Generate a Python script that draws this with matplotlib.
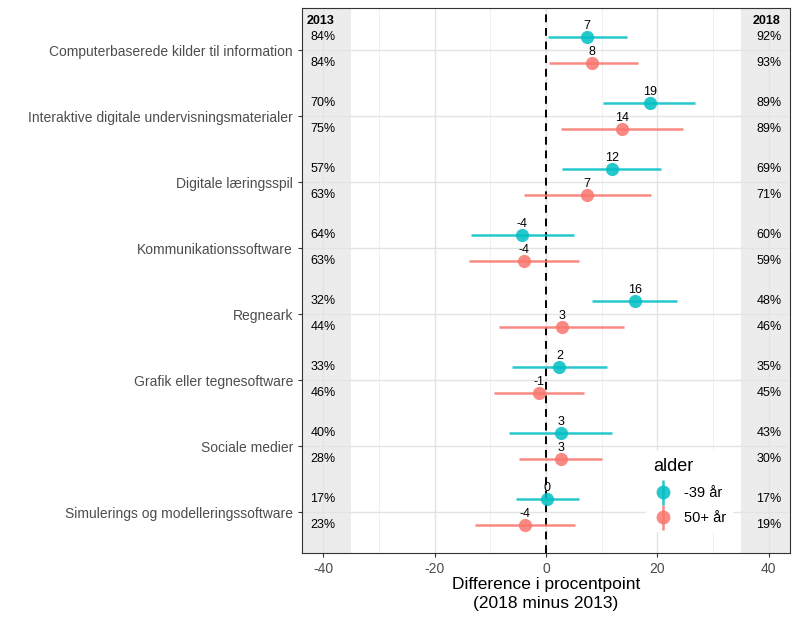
import matplotlib
matplotlib.use("Agg")
import matplotlib.pyplot as plt
from matplotlib.lines import Line2D
from matplotlib.legend_handler import HandlerTuple
import numpy as np
import math

plt.rcParams['font.family'] = ['Liberation Sans', 'DejaVu Sans']
plt.rcParams['axes.unicode_minus'] = False

categories = [
    "Computerbaserede kilder til information",
    "Interaktive digitale undervisningsmaterialer",
    "Digitale læringsspil",
    "Kommunikationssoftware",
    "Regneark",
    "Grafik eller tegnesoftware",
    "Sociale medier",
    "Simulerings og modelleringssoftware",
]
groups = ["-39 år", "50+ år"]

# difference estimates and confidence intervals
young_diff = [7.4, 18.6, 11.8, -4.3, 16.0, 2.4, 2.7, 0.2]
young_lo = [0.4, 10.3, 2.8, -13.5, 8.3, -6.1, -6.6, -5.4]
young_hi = [14.5, 26.7, 20.7, 5.0, 23.6, 11.0, 11.9, 5.9]
old_diff = [8.3, 13.6, 7.3, -3.9, 2.8, -1.2, 2.7, -3.7]
old_lo = [0.5, 2.7, -3.9, -13.9, -8.4, -9.3, -4.8, -12.7]
old_hi = [16.5, 24.6, 18.8, 6.0, 14.0, 6.9, 10.1, 5.2]

young_2013 = [84, 70, 57, 64, 32, 33, 40, 17]
young_2018 = [92, 89, 69, 60, 48, 35, 43, 17]
old_2013 = [84, 75, 63, 63, 44, 46, 28, 23]
old_2018 = [93, 89, 71, 59, 46, 45, 30, 19]

x_ticks = [-40, -20, 0, 20, 40]

teal = "#00BFC4"
salmon = "#F8766D"

fig = plt.figure(figsize=(8.0, 6.23), dpi=100)
ax = fig.add_axes([0.3775, 0.1124, 0.61, 0.8748])

n = len(categories)
ypos = np.arange(n, 0, -1).astype(float)
dodge = 0.2

ax.set_xlim(-43.8, 43.8)
ax.set_ylim(0.38, 8.64)

# grey side panels
ax.axvspan(-50, -35, color="#E5E5E5", alpha=0.7, zorder=0.6, lw=0)
ax.axvspan(35, 50, color="#E5E5E5", alpha=0.7, zorder=0.6, lw=0)

ax.set_axisbelow(True)
ax.set_xticks(x_ticks)
ax.set_xticks([-30, -10, 10, 30], minor=True)
ax.set_yticks(ypos)
ax.set_yticklabels(categories)
ax.grid(True, which="major", color="#E3E3E3", lw=1.0)
ax.grid(True, which="minor", axis="x", color="#EEEEEE", lw=0.6)

ax.axvline(0, color="black", ls=(0, (4, 3)), lw=1.4, zorder=2)


def rnd(v):
    return int(math.floor(v + 0.5))


for diffs, lo, hi, col, off in [
    (young_diff, young_lo, young_hi, teal, dodge),
    (old_diff, old_lo, old_hi, salmon, -dodge),
]:
    yy = ypos + off
    d = np.array(diffs)
    ax.hlines(yy, lo, hi, color=col, lw=1.8, alpha=0.85, zorder=3)
    ax.plot(d, yy, "o", color=col, ms=9.5, alpha=0.85, mec="none", zorder=4)
    for xv, yv in zip(d, yy):
        ax.text(xv, yv + 0.08, f"{rnd(xv)}", ha="center", va="bottom",
                fontsize=9, color="black", zorder=5)

for vals, off in [(young_2013, dodge), (old_2013, -dodge)]:
    for v, y in zip(vals, ypos + off):
        ax.text(-40, y, f"{v}%", ha="center", va="center", fontsize=9, color="black")
for vals, off in [(young_2018, dodge), (old_2018, -dodge)]:
    for v, y in zip(vals, ypos + off):
        ax.text(40, y, f"{v}%", ha="center", va="center", fontsize=9, color="black")

ax.text(-40.5, 8.45, "2013", ha="center", va="center", fontsize=9, fontweight="bold")
ax.text(39.5, 8.45, "2018", ha="center", va="center", fontsize=9, fontweight="bold")

for s in ax.spines.values():
    s.set_color("#333333")
    s.set_linewidth(0.8)
ax.tick_params(axis="both", which="major", colors="#333333", length=3, width=0.8,
               labelsize=10, labelcolor="#4D4D4D")
ax.tick_params(axis="x", which="minor", length=0)

ax.set_xlabel("Difference i procentpoint\n(2018 minus 2013)", fontsize=12.5, color="black",
              labelpad=1, linespacing=1.3)

handles = []
for col in [teal, salmon]:
    vline = Line2D([], [], marker="|", color=col, ms=18, mew=1.8, ls="none", alpha=0.85)
    dot = Line2D([], [], marker="o", color=col, ms=10, ls="none", alpha=0.85, mec="none")
    handles.append((vline, dot))
leg = ax.legend(handles, groups, handler_map={tuple: HandlerTuple(ndivide=1, pad=0)},
                title="alder", loc="lower left", bbox_to_anchor=(0.69, 0.025),
                frameon=True, fontsize=10.5, title_fontsize=13, handlelength=1.3,
                borderpad=0.5, labelspacing=0.75, handletextpad=0.8)
leg.get_frame().set_edgecolor("none")
leg.get_frame().set_facecolor("white")
leg.get_frame().set_alpha(1)
leg.get_frame().set_boxstyle("square", pad=0)
leg._legend_box.align = "left"
leg.set_zorder(6)

fig.savefig("out.png", dpi=100)
